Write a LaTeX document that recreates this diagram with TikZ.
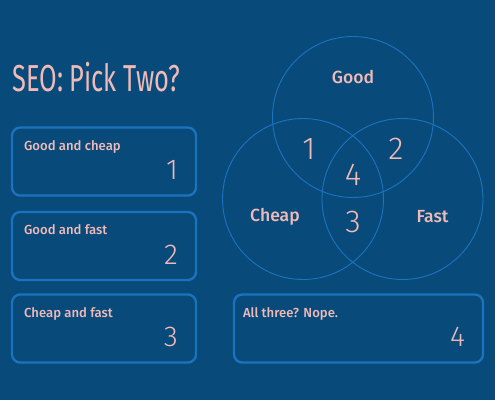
\documentclass[tikz,border=0pt]{standalone}
\usepackage{fontspec}
\setmainfont{Fira Sans}
\newfontfamily\lightfont{Fira Sans}[UprightFont=* Light]
\newfontfamily\midfont{Fira Sans}[UprightFont=* Medium]
\usetikzlibrary{positioning}
\definecolor{seobg}{RGB}{8,74,122}
\definecolor{seoline}{RGB}{28,114,190}
\definecolor{seotext}{RGB}{240,186,184}
\begin{document}
\begin{tikzpicture}[x=0.03cm,y=-0.03cm,line join=round,line cap=round,
	set/.style={circle,draw=seoline,line width=0.8pt,minimum size=4.83cm,inner sep=0pt},
	pickbox/.style={draw=seoline,line width=2pt,rounded corners=7pt,minimum width=5.52cm,minimum height=2.04cm,inner sep=0pt},
	boxlabel/.style={anchor=base west,inner sep=0pt,text=seotext,font=\midfont\fontsize{11.2}{13}\selectfont},
	boxnum/.style={anchor=base east,inner sep=0pt,text=seotext,font=\lightfont\fontsize{24.5}{26}\selectfont},
	setlabel/.style={text=seotext,inner sep=0pt,font=\midfont\fontsize{15}{17}\selectfont},
	setnum/.style={text=seotext,inner sep=0pt,font=\lightfont\fontsize{27}{29}\selectfont}]
	% background
	\fill[seobg] (0,0) rectangle (495,400);
	\node[anchor=base west,inner sep=0pt,text=seotext] (title) at (12,92) {\resizebox{143pt}{25pt}{SEO: Pick Two?}};
	% boxes on the left
	\foreach \n/\y/\t in {1/161.5/Good and cheap,2/246/Good and fast,3/328.5/Cheap and fast}{
		\node[pickbox] (b\n) at (104,\y) {};
		\node[boxlabel] (l\n) at ([shift={(13,24)}]b\n.north west) {\t};
		\node[boxnum] (n\n) at ([shift={(-19,-17)}]b\n.south east) {\n};}
	\node[pickbox,minimum width=7.47cm] (b4) at (358.5,328.5) {};
	\node[boxlabel] (l4) at ([shift={(10,24)}]b4.north west) {All three? Nope.};
	\node[boxnum] (n4) at ([shift={(-19,-17)}]b4.south east) {4};
	% venn
	\node[set] (good) at (353,117) {};
	\node[set] (cheap) at (303,199) {};
	\node[set] (fast) at (402.5,199) {};
	\path (good.center) ++(0,-40) node[setlabel] (goodl) {Good};
	\path (cheap.center) ++(-28,18) node[setlabel] (cheapl) {Cheap};
	\path (fast.center) ++(30,18) node[setlabel] (fastl) {Fast};
	\foreach \k/\x/\y in {1/309/149,2/396/149,4/353/175,3/353/222}{
		\node[setnum] (v\k) at (\x,\y) {\k};}
\end{tikzpicture}
\end{document}
